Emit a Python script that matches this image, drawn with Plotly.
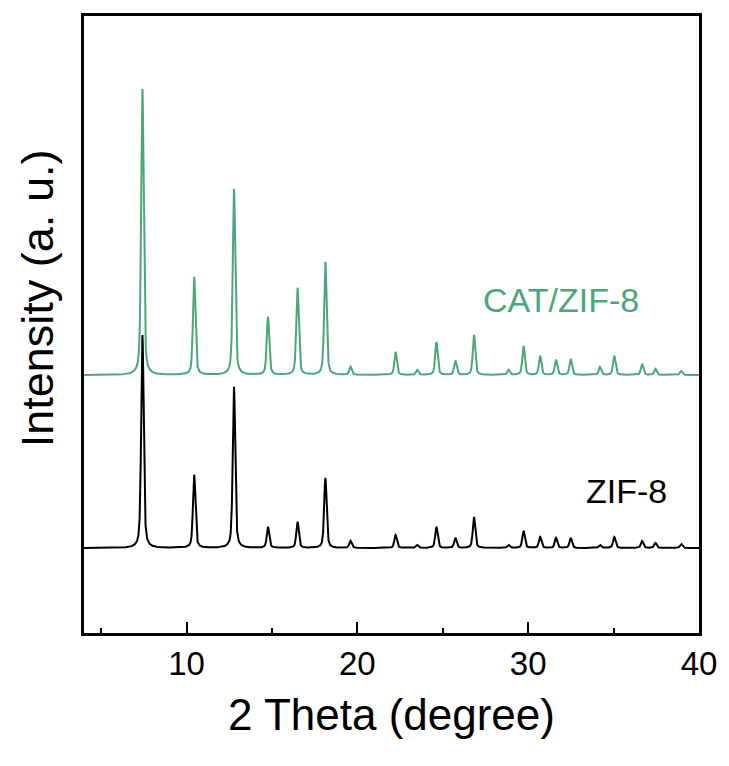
import numpy as np
import plotly.graph_objects as go

# ---- data ----
peak_pos = [7.42, 10.45, 12.78, 14.77, 16.50, 18.13, 19.60, 22.24, 23.50, 24.63, 25.74,
            26.83, 28.85, 29.73, 30.70, 31.63, 32.49, 34.20, 35.04, 36.67, 37.45, 38.96]
zif8_heights = [213, 73, 161, 21, 26, 70, 7, 13, 3, 21, 10,
                31, 3, 17, 11, 10, 10, 3, 11, 7, 5, 4]
cat_heights = [286, 98, 186, 58, 87, 113, 8, 23, 5, 33, 14,
               40, 5, 29, 19, 15, 16, 8, 19, 11, 6, 4]
zif8_offset = 85
cat_offset = 258
fwhm = 0.17
x_range = [4, 40]
x_ticks = [10, 20, 30, 40]
x_minor = [5, 15, 25, 35]

two_theta = np.arange(4.0, 40.0001, 0.01)


def pattern(heights, offset):
    y = np.full_like(two_theta, float(offset))
    hw = fwhm / 2.0
    sig = fwhm / 2.3548
    for p, h in zip(peak_pos, heights):
        d = two_theta - p
        lor = 1.0 / (1.0 + (d / hw) ** 2)
        gau = np.exp(-0.5 * (d / sig) ** 2)
        y += h * (0.5 * lor + 0.5 * gau)
    return y


green = "#4aa878"
fig = go.Figure()
fig.add_trace(go.Scatter(x=two_theta, y=pattern(cat_heights, cat_offset), mode="lines",
                         line=dict(color=green, width=2), showlegend=False))
fig.add_trace(go.Scatter(x=two_theta, y=pattern(zif8_heights, zif8_offset), mode="lines",
                         line=dict(color="black", width=2), showlegend=False))

fig.update_layout(
    width=729, height=766,
    margin=dict(l=84, r=27, t=16, b=133),
    paper_bgcolor="white", plot_bgcolor="white",
    font=dict(family="Liberation Sans, Arial", color="black"),
    xaxis=dict(range=x_range, tickvals=x_ticks, ticks="inside", ticklen=11, tickwidth=2,
               tickcolor="black", showgrid=False, zeroline=False,
               showline=True, linecolor="black", linewidth=2.5, mirror=True,
               tickfont=dict(size=33, color="black"),
               minor=dict(tickvals=x_minor, ticks="inside", ticklen=5, tickwidth=2, tickcolor="black")),
    yaxis=dict(range=[0, 617], showticklabels=False, ticks="", showgrid=False, zeroline=False,
               showline=True, linecolor="black", linewidth=2.5, mirror=True),
    annotations=[
        dict(text="2 Theta (degree)", x=0.5, xref="paper", y=714, yref="paper",
             showarrow=False, font=dict(size=44, color="black")),
        dict(text="Intensity (a. u.)", x=37, y=298, showarrow=False, textangle=-90,
             font=dict(size=45, color="black")),
        dict(text="CAT/ZIF-8", x=563, y=300, showarrow=False, font=dict(size=34, color=green)),
        dict(text="ZIF-8", x=629, y=491, showarrow=False, font=dict(size=34, color="black")),
    ],
)

# convert pixel-placed annotations to paper coordinates
W, H = 729, 766
L, R, T, B = 84, 27, 16, 133
pw, ph = W - L - R, H - T - B
new_ann = []
for a in fig.layout.annotations:
    a = a.to_plotly_json()
    px, py = a["x"], a["y"]
    if a.get("xref") == "paper" and px <= 1:
        px = L + px * pw
    a["x"] = (px - L) / pw
    a["y"] = (H - B - py) / ph
    a["xref"] = "paper"
    a["yref"] = "paper"
    a["xanchor"] = "center"
    a["yanchor"] = "middle"
    new_ann.append(a)
fig.layout.annotations = new_ann

fig.write_html("out.html")
